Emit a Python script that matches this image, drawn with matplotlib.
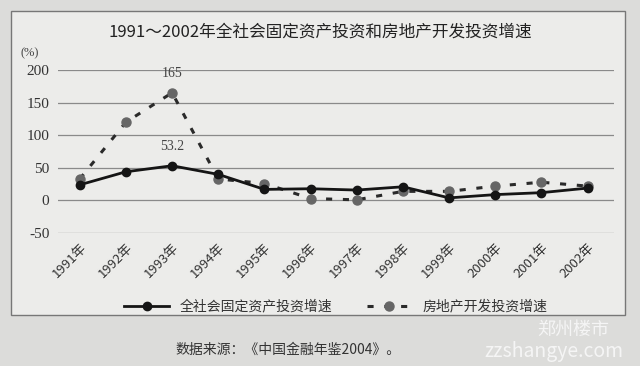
import matplotlib.pyplot as plt
from matplotlib.patches import Rectangle

plt.rcParams['font.family'] = ['Noto Sans CJK SC', 'DejaVu Sans']

years = ['1991年', '1992年', '1993年', '1994年', '1995年', '1996年',
         '1997年', '1998年', '1999年', '2000年', '2001年', '2002年']
fixed_invest = [24, 44, 53.2, 40, 17, 18, 16, 21, 4, 9, 12, 19]
real_estate = [33, 120, 165, 33, 26, 3, 1, 14, 14, 22, 28, 22]
yticks = [-50, 0, 50, 100, 150, 200]

fig = plt.figure(figsize=(6.4, 3.66), dpi=100)
fig.patch.set_facecolor('#dcdcda')

# the printed box around the chart
fig.patches.append(Rectangle((0.017, 0.14), 0.96, 0.83, transform=fig.transFigure,
                             facecolor='#ececea', edgecolor='#777777', lw=1.0, zorder=-5))

ax = fig.add_axes([0.09, 0.363, 0.87, 0.446])
ax.set_facecolor('none')
x = list(range(len(years)))

ax.plot(x, real_estate, linestyle=(0, (2, 3.5)), lw=2.2, color='#2a2a2a',
        marker='o', markersize=6.5, markerfacecolor='#666666', markeredgecolor='#666666', zorder=3)
ax.plot(x, fixed_invest, '-', lw=2, color='#151515',
        marker='o', markersize=6, markerfacecolor='#151515', zorder=4)

ax.annotate('165', (2, real_estate[2]), xytext=(0, 9), textcoords='offset points',
            ha='center', va='bottom', fontsize=10, color='#444444', family='Liberation Serif')
ax.annotate('53.2', (2, fixed_invest[2]), xytext=(0, 9), textcoords='offset points',
            ha='center', va='bottom', fontsize=10, color='#444444', family='Liberation Serif')

ax.set_ylim(-50, 200)
ax.set_xlim(-0.48, 11.58)
ax.set_yticks(yticks)
ax.set_yticklabels([str(v) for v in yticks], family='Liberation Serif', fontsize=11, color='#333333')
ax.yaxis.grid(True, color='#8a8a8a', lw=0.9)
ax.set_xticks(x)
ax.set_xticklabels(years, rotation=45, ha='right', rotation_mode='anchor',
                   fontsize=9.5, color='#333333')
ax.tick_params(length=0, pad=6)
for s in ax.spines.values():
    s.set_visible(False)

fig.text(0.5, 0.912, '1991～2002年全社会固定资产投资和房地产开发投资增速',
         ha='center', va='center', fontsize=12, color='#222222')
fig.text(0.047, 0.855, '(%)', ha='center', va='center', fontsize=9,
         color='#444444', family='Liberation Serif')

labels = ['全社会固定资产投资增速', '房地产开发投资增速']
leg = ax.legend(ax.get_lines()[::-1], labels, loc='center', bbox_to_anchor=(0.5, -0.45),
                ncol=2, frameon=False, fontsize=10, handlelength=3.2, columnspacing=2.5)
for t in leg.get_texts():
    t.set_color('#333333')

fig.text(0.45, 0.045, '数据来源：《中国金融年鉴2004》。', ha='center', va='center',
         fontsize=10, color='#333333')
fig.text(0.895, 0.1, '郑州楼市', ha='center', va='center', fontsize=13, color='#f5f5f5')
fig.text(0.865, 0.04, 'zzshangye.com', ha='center', va='center', fontsize=14, color='#f5f5f5')

fig.savefig('out.png', dpi=100, facecolor=fig.get_facecolor())
